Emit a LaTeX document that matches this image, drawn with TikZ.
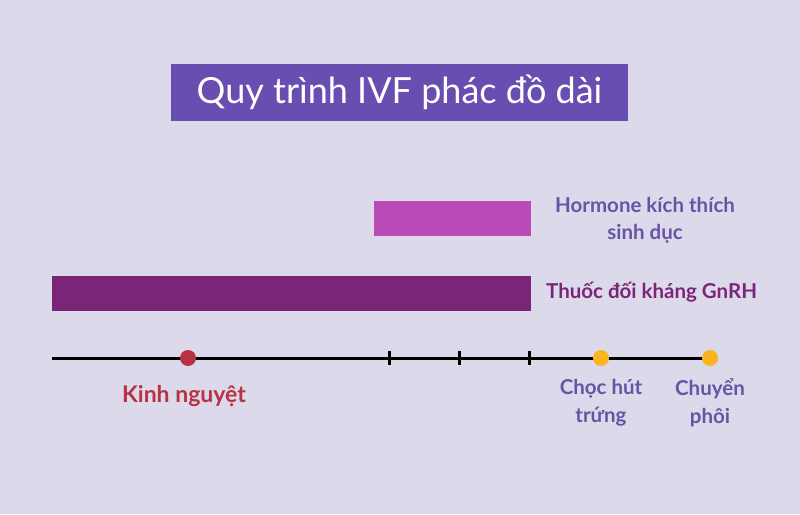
\documentclass[tikz,border=0pt]{standalone}
\usepackage{fontspec}
\setmainfont{Lato}
\usetikzlibrary{positioning,backgrounds}
\definecolor{bgc}{RGB}{220,217,234}
\definecolor{titlec}{RGB}{104,78,176}
\definecolor{pinkc}{RGB}{186,74,181}
\definecolor{plumc}{RGB}{122,38,120}
\definecolor{labelc}{RGB}{104,84,166}
\definecolor{redc}{RGB}{184,50,68}
\definecolor{gold}{RGB}{249,180,31}
\begin{document}
\begin{tikzpicture}[x=1pt,y=-1pt,
  bar/.style={draw=none,rectangle,inner sep=0pt,outer sep=0pt},
  lbl/.style={font=\bfseries\fontsize{20.5}{27}\selectfont,align=center,inner sep=0pt},
  dot/.style={circle,inner sep=0pt,minimum size=16pt,outer sep=0pt},
  tick/.style={line width=3pt}]

        \fill[bgc] (0,0) rectangle (800,514);
        \useasboundingbox (0,0) rectangle (800,514);

        \node (T) [bar,fill=titlec,minimum width=457pt,minimum height=57pt,text=white,
          font=\fontsize{36}{40}\selectfont] at (399.5,92.5) {Quy trình IVF phác đồ dài};

        \node (H) [bar,fill=pinkc,minimum width=157pt,minimum height=35pt] at (452.5,218.5) {};
        \node (G) [bar,fill=plumc,minimum width=479pt,minimum height=35pt] at (291.5,293.5) {};

        \node (Hl) [lbl,text=labelc] at (645,220) {Hormone kích thích\\sinh dục};
        \node (Gl) [lbl,text=plumc,right = 15pt of G,yshift=1pt] {Thuốc đối kháng GnRH};

        % time line
        \coordinate (L) at (52,358);
        \coordinate (R) at (712,358);
        \draw[line width=3pt] (L) -- (R);

        \foreach \x in {389,459,529}
          \draw[tick] (\x,351) -- (\x,365);

        \node (K) [dot,fill=redc] at (188,358) {};
        \node (C) [dot,fill=gold] at (601,358) {};
        \node (P) [dot,fill=gold] at (710,358) {};

        \node (Kl) [lbl,text=redc,font=\bfseries\fontsize{23}{27}\selectfont] at (184,396) {Kinh nguyệt};
        \node (Cl) [lbl,text=labelc,font=\bfseries\fontsize{20.5}{28}\selectfont] at (601,403) {Chọc hút\\trứng};
        \node (Pl) [lbl,text=labelc,font=\bfseries\fontsize{20.5}{28}\selectfont] at (710,403) {Chuyển\\phôi};
      \end{tikzpicture}
\end{document}
